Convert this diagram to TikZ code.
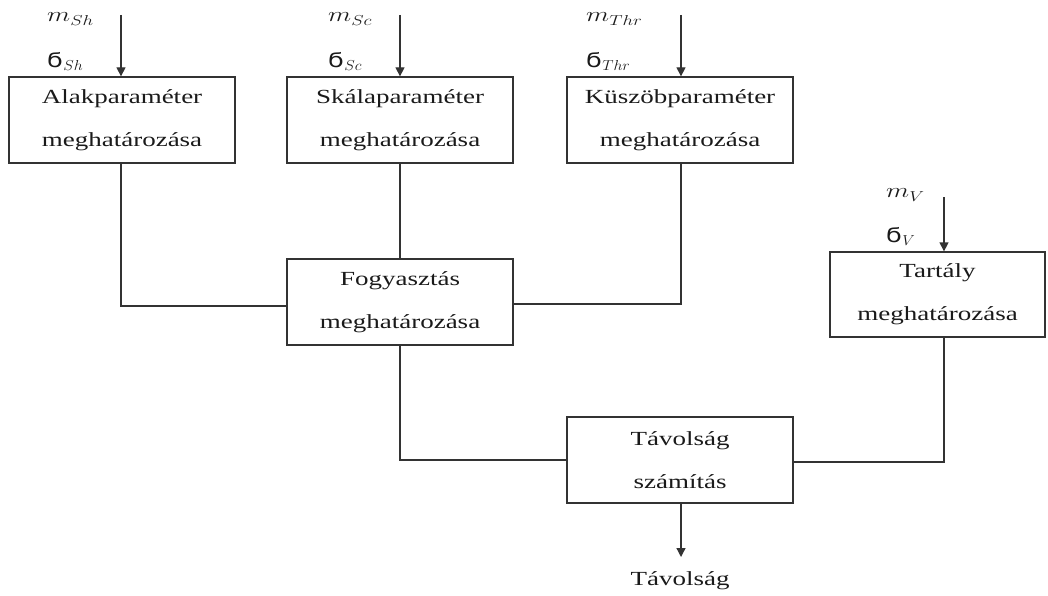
\documentclass[tikz,border=0pt]{standalone}
\usepackage{fontspec}
\usepackage{graphicx}
\setmainfont{Liberation Serif}[FakeStretch=1.35]
\newfontfamily\copt{DejaVu Sans}[FakeStretch=1.2]
\usetikzlibrary{arrows.meta,calc}
\definecolor{ln}{HTML}{333333}
\definecolor{tx}{HTML}{1A1A1A}
\tikzset{
  box/.style={draw=ln, line width=1.3pt, minimum width=226pt, minimum height=86pt, inner sep=0pt,
    align=center, text=tx, font=\fontsize{20}{43}\selectfont},
  conn/.style={draw=ln, line width=1.3pt},
  arr/.style={conn, -{Triangle[width=9pt,length=9pt]}},
  lab/.style={anchor=west, inner sep=0pt, text=tx},
}
\newcommand{\mlab}[1]{\scalebox{1.3}[1]{\fontsize{20}{20}\selectfont$m_{\scriptstyle #1}$}}
\newcommand{\slab}[1]{\scalebox{1.1}[1]{\fontsize{20}{20}\selectfont{\copt ϭ}$_{\scriptstyle #1}$}}
\begin{document}
\begin{tikzpicture}[x=1pt,y=-1pt]
\useasboundingbox (0,0) rectangle (1048,596);
% boxes
\node[box] (alak) at (122,120) {Alakparaméter\\meghatározása};
\node[box] (skal) at (400,120) {Skálaparaméter\\meghatározása};
\node[box] (kusz) at (680,120) {Küszöbparaméter\\meghatározása};
\node[box] (fogy) at (400,302) {Fogyasztás\\meghatározása};
\node[box, minimum width=215pt, minimum height=85pt] (tart) at (937.5,294.5) {Tartály\\meghatározása};
\node[box] (tav) at (680,460) {Távolság\\számítás};
\node[text=tx, font=\fontsize{20}{24}\selectfont, inner sep=0pt] (out) at (680,581) {Távolság};
% input coordinates
\coordinate (in1) at (121,15);
\coordinate (in2) at (400,15);
\coordinate (in3) at (681,15);
\coordinate (in4) at (944,197);
\coordinate (outend) at (681,557);
% input labels
\node[lab] (m1) at (47,19) {\mlab{Sh}};
\node[lab] (s1) at (47,61) {\slab{Sh}};
\node[lab] (m2) at (328,19) {\mlab{Sc}};
\node[lab] (s2) at (328,61) {\slab{Sc}};
\node[lab] (m3) at (586,19) {\mlab{Thr}};
\node[lab] (s3) at (586,61) {\slab{Thr}};
\node[lab] (m4) at (886,195) {\mlab{V}};
\node[lab] (s4) at (886,236) {\slab{V}};
% arrows into boxes
\draw[arr] (in1) -- (in1 |- alak.north);
\draw[arr] (in2) -- (skal.north);
\draw[arr] (in3) -- (in3 |- kusz.north);
\draw[arr] (in4) -- (in4 |- tart.north);
% connectors
\draw[conn] (alak.south -| in1) |- ($(fogy.west)+(0,4)$);
\draw[conn] (skal.south) -- (fogy.north);
\draw[conn] (kusz.south -| in3) |- ($(fogy.east)+(0,2)$);
\draw[conn] (fogy.south) |- (tav.west);
\draw[conn] (tart.south -| in4) |- ($(tav.east)+(0,2)$);
\draw[arr] (tav.south -| outend) -- (outend);
\end{tikzpicture}
\end{document}
